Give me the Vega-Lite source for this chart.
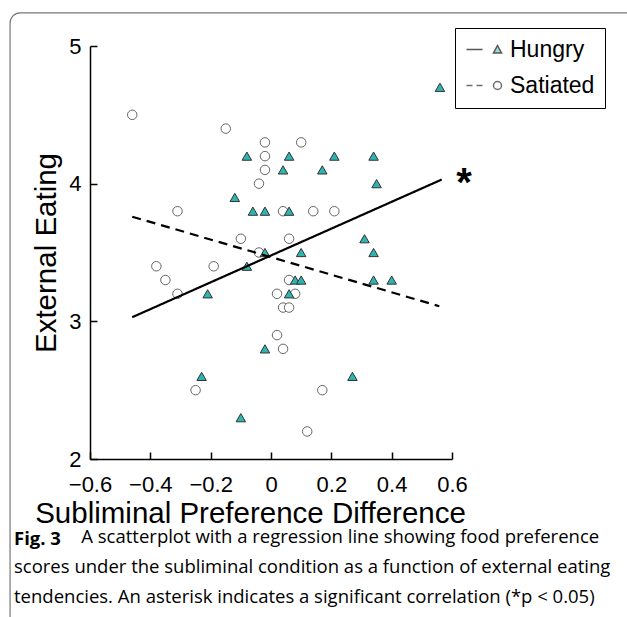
{
  "$schema": "https://vega.github.io/schema/vega-lite/v6.json",
  "width": 362,
  "height": 413,
  "autosize": "none",
  "padding": {"left": 90, "top": 46, "right": 175, "bottom": 158},
  "background": "white",
  "config": {
    "view": {"stroke": null},
    "font": "Liberation Sans",
    "axis": {
      "grid": false,
      "domainColor": "black",
      "domainWidth": 1.5,
      "tickColor": "black",
      "tickWidth": 1.5,
      "tickSize": -7,
      "labelFont": "Liberation Sans",
      "labelFontSize": 22,
      "labelColor": "black",
      "labelFlush": false,
      "labelOverlap": false,
      "titleFont": "Liberation Sans",
      "titleFontSize": 29.5,
      "titleFontWeight": "normal",
      "titleColor": "black"
    }
  },
  "datasets": {
    "points": [
      {"x": -0.46, "y": 4.5, "group": "Satiated"},
      {"x": -0.15, "y": 4.4, "group": "Satiated"},
      {"x": -0.02, "y": 4.3, "group": "Satiated"},
      {"x": 0.10, "y": 4.3, "group": "Satiated"},
      {"x": -0.02, "y": 4.2, "group": "Satiated"},
      {"x": -0.02, "y": 4.1, "group": "Satiated"},
      {"x": -0.04, "y": 4.0, "group": "Satiated"},
      {"x": -0.31, "y": 3.8, "group": "Satiated"},
      {"x": 0.04, "y": 3.8, "group": "Satiated"},
      {"x": 0.14, "y": 3.8, "group": "Satiated"},
      {"x": 0.21, "y": 3.8, "group": "Satiated"},
      {"x": -0.10, "y": 3.6, "group": "Satiated"},
      {"x": 0.06, "y": 3.6, "group": "Satiated"},
      {"x": -0.04, "y": 3.5, "group": "Satiated"},
      {"x": -0.38, "y": 3.4, "group": "Satiated"},
      {"x": -0.19, "y": 3.4, "group": "Satiated"},
      {"x": -0.35, "y": 3.3, "group": "Satiated"},
      {"x": 0.06, "y": 3.3, "group": "Satiated"},
      {"x": -0.31, "y": 3.2, "group": "Satiated"},
      {"x": 0.02, "y": 3.2, "group": "Satiated"},
      {"x": 0.08, "y": 3.2, "group": "Satiated"},
      {"x": 0.04, "y": 3.1, "group": "Satiated"},
      {"x": 0.06, "y": 3.1, "group": "Satiated"},
      {"x": 0.02, "y": 2.9, "group": "Satiated"},
      {"x": 0.04, "y": 2.8, "group": "Satiated"},
      {"x": -0.25, "y": 2.5, "group": "Satiated"},
      {"x": 0.17, "y": 2.5, "group": "Satiated"},
      {"x": 0.12, "y": 2.2, "group": "Satiated"},
      {"x": 0.56, "y": 4.7, "group": "Hungry"},
      {"x": -0.08, "y": 4.2, "group": "Hungry"},
      {"x": 0.06, "y": 4.2, "group": "Hungry"},
      {"x": 0.21, "y": 4.2, "group": "Hungry"},
      {"x": 0.34, "y": 4.2, "group": "Hungry"},
      {"x": 0.04, "y": 4.1, "group": "Hungry"},
      {"x": 0.17, "y": 4.1, "group": "Hungry"},
      {"x": 0.35, "y": 4.0, "group": "Hungry"},
      {"x": -0.12, "y": 3.9, "group": "Hungry"},
      {"x": -0.06, "y": 3.8, "group": "Hungry"},
      {"x": -0.02, "y": 3.8, "group": "Hungry"},
      {"x": 0.06, "y": 3.8, "group": "Hungry"},
      {"x": 0.31, "y": 3.6, "group": "Hungry"},
      {"x": -0.02, "y": 3.5, "group": "Hungry"},
      {"x": 0.10, "y": 3.5, "group": "Hungry"},
      {"x": 0.34, "y": 3.5, "group": "Hungry"},
      {"x": -0.08, "y": 3.4, "group": "Hungry"},
      {"x": 0.08, "y": 3.3, "group": "Hungry"},
      {"x": 0.10, "y": 3.3, "group": "Hungry"},
      {"x": 0.34, "y": 3.3, "group": "Hungry"},
      {"x": 0.40, "y": 3.3, "group": "Hungry"},
      {"x": -0.21, "y": 3.2, "group": "Hungry"},
      {"x": 0.06, "y": 3.2, "group": "Hungry"},
      {"x": -0.02, "y": 2.8, "group": "Hungry"},
      {"x": -0.23, "y": 2.6, "group": "Hungry"},
      {"x": 0.27, "y": 2.6, "group": "Hungry"},
      {"x": -0.10, "y": 2.3, "group": "Hungry"}
    ],
    "lines": [
      {"x": -0.46, "y": 3.03, "group": "Hungry"},
      {"x": 0.566, "y": 4.03, "group": "Hungry"},
      {"x": -0.46, "y": 3.76, "group": "Satiated"},
      {"x": 0.558, "y": 3.11, "group": "Satiated"}
    ],
    "note": [{"x": 0.64, "y": 4.06, "label": "*"}]
  },
  "title": {
    "text": "Fig. 3",
    "subtitle": [
      "\u200b\u00a0\u00a0\u00a0\u00a0\u00a0\u00a0\u00a0\u00a0\u00a0\u00a0\u00a0\u00a0\u00a0\u00a0A scatterplot with a regression line showing food preference",
      "scores under the subliminal condition as a function of external eating",
      "tendencies. An asterisk indicates a significant correlation (*p < 0.05)"
    ],
    "orient": "bottom",
    "anchor": "start",
    "frame": "group",
    "dx": -76,
    "offset": -101,
    "font": "Open Sans",
    "fontSize": 18.5,
    "fontWeight": "bold",
    "color": "black",
    "subtitleFont": "Open Sans",
    "subtitleFontSize": 18.5,
    "subtitleColor": "black",
    "subtitleLineHeight": 30,
    "subtitlePadding": -20
  },
  "resolve": {"scale": {"fill": "independent", "shape": "independent", "stroke": "independent"}},
  "layer": [
    {
      "data": {"values": [{"k": 1}]},
      "mark": {"type": "rect", "filled": false, "stroke": "#777777", "strokeWidth": 1.2, "cornerRadius": 10},
      "encoding": {
        "x": {"datum": -0.865, "type": "quantitative", "scale": {"domain": [-0.6, 0.6]}},
        "x2": {"datum": 1.25},
        "y": {"datum": 5.24, "type": "quantitative", "scale": {"domain": [2, 5]}},
        "y2": {"datum": 0.758}
      }
    },
    {
      "data": {"name": "points"},
      "mark": {"type": "point", "filled": true, "size": 90, "strokeWidth": 1, "opacity": 1},
      "encoding": {
        "x": {
          "field": "x", "type": "quantitative",
          "scale": {"domain": [-0.6, 0.6]},
          "axis": {"values": [-0.6, -0.4, -0.2, 0, 0.2, 0.4, 0.6], "format": ".1~f", "labelPadding": 22, "titlePadding": 4, "titleX": 160},
          "title": "Subliminal Preference Difference"
        },
        "y": {
          "field": "y", "type": "quantitative",
          "scale": {"domain": [2, 5]},
          "axis": {"values": [2, 3, 4, 5], "format": ".0f", "labelPadding": 16, "titlePadding": 7},
          "title": "External Eating"
        },
        "fill": {
          "field": "group", "type": "nominal",
          "scale": {"range": ["#2db5b2", "#ffffff"]},
          "legend": null
        },
        "stroke": {
          "field": "group", "type": "nominal",
          "scale": {"range": ["#333333", "#666666"]},
          "legend": null
        },
        "shape": {
          "field": "group", "type": "nominal",
          "scale": {"range": ["triangle-up", "circle"]},
          "legend": null
        }
      }
    },
    {
      "data": {"values": []},
      "mark": {"type": "point", "filled": true, "strokeWidth": 1.5},
      "encoding": {
        "x": {"field": "x", "type": "quantitative", "scale": {"domain": [-0.6, 0.6]}},
        "y": {"field": "y", "type": "quantitative", "scale": {"domain": [2, 5]}},
        "shape": {
          "field": "group", "type": "nominal",
          "scale": {
            "domain": ["Hungry", "Satiated"],
            "range": [
              "M-1,0L0.6,0M1.7,0.35L2.5,0.35L2.1,-0.4Z",
              "M-1,0L-0.4,0M0,0L0.6,0M2.5,0A0.4,0.4,0,1,1,1.7,0A0.4,0.4,0,1,1,2.5,0Z"
            ]
          },
          "legend": {
            "title": null,
            "orient": "none",
            "legendX": 365,
            "legendY": -18,
            "strokeColor": "black",
            "padding": 10,
            "rowPadding": 12,
            "labelFont": "Liberation Sans",
            "labelFontSize": 23,
            "labelColor": "black",
            "labelOffset": 22,
            "symbolSize": 400,
            "symbolStrokeWidth": 1.5
          }
        },
        "fill": {
          "field": "group", "type": "nominal",
          "scale": {"domain": ["Hungry", "Satiated"], "range": ["#2db5b2", "#ffffff"]}
        },
        "stroke": {
          "field": "group", "type": "nominal",
          "scale": {"domain": ["Hungry", "Satiated"], "range": ["#111111", "#333333"]}
        }
      }
    },
    {
      "data": {"name": "lines"},
      "mark": {"type": "line", "color": "black", "strokeWidth": 2.2},
      "encoding": {
        "x": {"field": "x", "type": "quantitative", "scale": {"domain": [-0.6, 0.6]}},
        "y": {"field": "y", "type": "quantitative", "scale": {"domain": [2, 5]}},
        "detail": {"field": "group"},
        "strokeDash": {
          "field": "group", "type": "nominal",
          "scale": {"range": [[1, 0], [9, 6]]},
          "legend": null
        }
      }
    },
    {
      "data": {"name": "note"},
      "mark": {"type": "text", "font": "Liberation Sans", "fontSize": 40, "fontWeight": "bold", "color": "black", "baseline": "middle", "align": "center", "dy": 9},
      "encoding": {
        "x": {"field": "x", "type": "quantitative", "scale": {"domain": [-0.6, 0.6]}},
        "y": {"field": "y", "type": "quantitative", "scale": {"domain": [2, 5]}},
        "text": {"field": "label"}
      }
    }
  ]
}
